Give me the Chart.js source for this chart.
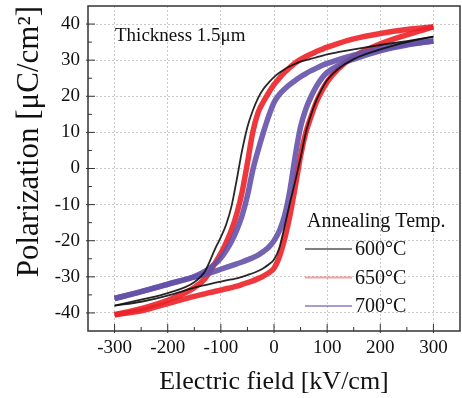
<!DOCTYPE html>
<html>
<head>
<meta charset="utf-8">
<title>P-E hysteresis loops</title>
<script src="https://cdn.jsdelivr.net/npm/chart.js@4.4.1/dist/chart.umd.min.js"></script>
<style>
  html, body { margin: 0; padding: 0; background: #fff; }
  canvas { display: block; }
</style>
</head>
<body>
<canvas id="loopChart" width="462" height="398"></canvas>
<script>
// Electric field samples (kV/cm), shared by every branch
const field = [-300, -250, -200, -150, -130, -110, -100, -90, -80, -70, -60, -50, -40, -30, -20, -10,
  0, 10, 20, 30, 40, 50, 60, 70, 80, 90, 100, 120, 150, 200, 250, 300];

// Polarization (uC/cm2), upper branch = sweep from +300 to -300, lower branch = sweep back
const p600Upper = [-38, -36.3, -34.5, -31.5, -28.5, -22, -19, -15.5, -10.5, -3, 5, 11.5, 16, 19.5, 22, 23.8,
  25.3, 26.5, 27.5, 28.3, 29, 29.6, 30, 30.4, 30.8, 31.2, 31.6, 32.2, 33, 34.2, 35.3, 36.5];
const p600Lower = [-38, -36.9, -35.2, -33, -32.3, -31.6, -31.3, -31, -30.7, -30.4, -30, -29.5, -29, -28.4, -27.6, -26.6,
  -25.2, -22, -16, -9.5, -3.5, 3, 10, 15, 19, 22, 24.5, 27.5, 30.3, 33, 35, 36.5];

const p650Upper = [-40.5, -38.8, -36.5, -33, -30.5, -26, -23.5, -20.5, -17, -12.5, -6.5, 1.5, 10, 15.5, 18.5, 21,
  23.2, 25, 26.6, 28, 29.2, 30.2, 31, 31.7, 32.4, 33, 33.6, 34.6, 35.9, 37.4, 38.5, 39.2];
const p650Lower = [-40.5, -39.4, -37.4, -35.4, -34.7, -34, -33.7, -33.3, -33, -32.6, -32.1, -31.6, -31.1, -30.5, -29.8, -28.9,
  -27.6, -24.5, -19.5, -13, -5, 3.5, 10, 14.5, 18.5, 21.5, 24, 27.5, 31, 34.5, 37, 39.2];

const p700Upper = [-36, -34.1, -32, -29.9, -28.5, -26.3, -24.8, -22.7, -20.2, -17, -13, -7.5, -0.5, 5, 10, 14.5,
  18.3, 20.5, 22, 23.3, 24.4, 25.4, 26.3, 27.1, 27.8, 28.5, 29.1, 30.1, 31.4, 33.1, 34.4, 35.3];
const p700Lower = [-36, -34.1, -32.1, -30.1, -29.3, -28.4, -27.9, -27.4, -26.9, -26.4, -25.9, -25.3, -24.7, -24, -23, -21.8,
  -20, -17.3, -13, -6, 3.5, 11.5, 16.5, 20, 22.8, 25, 26.6, 28.5, 30.3, 32.6, 34.2, 35.3];

const xTicks = [-300, -200, -100, 0, 100, 200, 300];
const xMinor = [-250, -150, -50, 50, 150, 250];
const yTicks = [-40, -30, -20, -10, 0, 10, 20, 30, 40];
const yMinor = [-35, -25, -15, -5, 5, 15, 25, 35];

const seriesNames = ['600°C', '650°C', '700°C'];
const legendTitle = 'Annealing Temp.';
const noteText = 'Thickness 1.5μm';

const serif = '"Liberation Serif", "Times New Roman", serif';

const series = [
  { name: seriesNames[0], upper: p600Upper, lower: p600Lower, color: 'rgba(15,15,15,0.9)', width: 1.8, order: 1, key: '#555' },
  { name: seriesNames[1], upper: p650Upper, lower: p650Lower, color: 'rgba(236,34,40,0.9)', width: 5.5, order: 3, key: 'rgba(240,80,85,0.55)' },
  { name: seriesNames[2], upper: p700Upper, lower: p700Lower, color: 'rgba(100,82,170,0.9)', width: 5.5, order: 2, key: 'rgba(95,80,170,0.75)' }
];

const datasets = [];
series.forEach(s => {
  [s.upper, s.lower].forEach(branch => {
    datasets.push({
      label: s.name,
      data: field.map((e, i) => ({ x: e, y: branch[i] })),
      showLine: true,
      borderColor: s.color,
      borderWidth: s.width,
      pointRadius: 0,
      cubicInterpolationMode: 'monotone',
      order: s.order
    });
  });
});

// frame, inward ticks, note and legend
const decorPlugin = {
  id: 'decor',
  afterDatasetsDraw(chart) {
    const { ctx, chartArea: a, scales: { x, y } } = chart;
    ctx.save();
    ctx.strokeStyle = '#333';
    ctx.lineWidth = 1;
    ctx.beginPath();
    yTicks.forEach(v => { const py = y.getPixelForValue(v); ctx.moveTo(a.left - 2, py); ctx.lineTo(a.left + 7, py); });
    yMinor.forEach(v => { const py = y.getPixelForValue(v); ctx.moveTo(a.left, py); ctx.lineTo(a.left + 4, py); });
    xTicks.forEach(v => { const px = x.getPixelForValue(v); ctx.moveTo(px, a.bottom + 2); ctx.lineTo(px, a.bottom - 7); });
    xMinor.forEach(v => { const px = x.getPixelForValue(v); ctx.moveTo(px, a.bottom); ctx.lineTo(px, a.bottom - 4); });
    ctx.stroke();

    ctx.lineWidth = 1.5;
    ctx.strokeRect(a.left, a.top, a.right - a.left, a.bottom - a.top);

    ctx.fillStyle = '#111';
    ctx.textBaseline = 'alphabetic';
    ctx.textAlign = 'left';
    ctx.font = '19px ' + serif;
    ctx.fillText(noteText, a.left + 27, a.top + 35);

    // legend
    const lx = a.right - 155;
    ctx.font = '20px ' + serif;
    ctx.fillText(legendTitle, lx + 2, 227);
    series.forEach((s, i) => {
      const by = 255 + i * 28.5;
      ctx.strokeStyle = s.key;
      ctx.lineWidth = i === 1 ? 2 : 1.3;
      ctx.beginPath();
      ctx.moveTo(lx, by - 6);
      ctx.lineTo(lx + 47, by - 6);
      ctx.stroke();
      ctx.fillText(s.name, lx + 50, by);
    });
    ctx.restore();
  }
};

new Chart(document.getElementById('loopChart'), {
  type: 'scatter',
  data: { datasets },
  options: {
    responsive: false,
    animation: false,
    devicePixelRatio: 1,
    layout: { padding: { top: 6, right: 2, left: 0, bottom: 0 } },
    plugins: { legend: { display: false }, tooltip: { enabled: false } },
    scales: {
      x: {
        type: 'linear',
        min: -350,
        max: 350,
        afterBuildTicks: s => { s.ticks = xTicks.map(v => ({ value: v })); },
        afterFit: s => { s.height = 67; s.paddingLeft = 0; s.paddingRight = 0; },
        ticks: { color: '#111', font: { family: serif, size: 19 }, padding: 6, maxRotation: 0 },
        grid: { color: '#c9c9c9', lineWidth: 1, drawTicks: false },
        border: { display: false, dash: [2, 2] },
        title: { display: true, text: 'Electric field [kV/cm]', color: '#111', font: { family: serif, size: 26 }, padding: { bottom: 0 } }
      },
      y: {
        type: 'linear',
        min: -45,
        max: 45,
        afterBuildTicks: s => { s.ticks = yTicks.map(v => ({ value: v })); },
        afterFit: s => { s.width = 88; s.paddingTop = 0; s.paddingBottom = 0; },
        ticks: { color: '#111', font: { family: serif, size: 19 }, padding: 8 },
        grid: { color: '#c9c9c9', lineWidth: 1, drawTicks: false },
        border: { display: false, dash: [2, 2] },
        title: { display: true, text: 'Polarization [μC/cm²]', align: 'end', color: '#111', font: { family: serif, size: 31 }, padding: { top: 11 } }
      }
    }
  },
  plugins: [decorPlugin]
});
</script>
</body>
</html>
